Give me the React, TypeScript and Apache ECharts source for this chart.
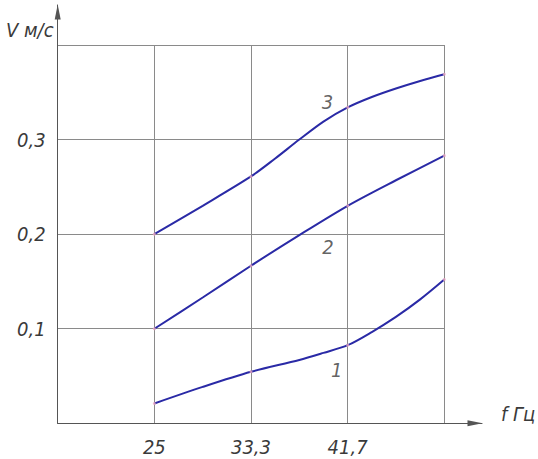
import React, { useEffect, useRef } from "react";
import * as echarts from "echarts";

// Frequency (Hz) values of the grid ticks and their labels
const xTicks = [50 / 3, 25, 100 / 3, 125 / 3, 50];
const xTickLabels = ["", "25", "33,3", "41,7", ""];
const yTicks = [0, 0.1, 0.2, 0.3, 0.4];
const yTickLabels = ["", "0,1", "0,2", "0,3", ""];

// Curve data: f (Hz) and V (m/s)
const curve1F = [25, 29.17, 33.33, 37.5, 39.58, 41.67, 43.75, 45.83, 47.92, 50];
const curve1V = [0.021, 0.0385, 0.0545, 0.067, 0.0745, 0.0826, 0.0965, 0.1125, 0.131, 0.152];
const curve2F = [25, 29.17, 33.33, 37.5, 41.67, 45.83, 50];
const curve2V = [0.1, 0.133, 0.1666, 0.199, 0.23, 0.257, 0.283];
const curve3F = [25, 29.17, 33.33, 35.42, 37.5, 39.58, 41.67, 43.75, 45.83, 47.92, 50];
const curve3V = [0.2, 0.23, 0.261, 0.28, 0.3, 0.319, 0.334, 0.345, 0.354, 0.362, 0.369];

const curveNames = ["1", "2", "3"];
const curveLabelF = [40.73, 39.96, 39.93];
const curveLabelV = [0.0563, 0.1864, 0.34];

const FONT = "'Liberation Sans Narrow', 'DejaVu Sans Condensed', 'DejaVu Sans', sans-serif";
const LINE_COLOR = "#2a2aa6";
const GRID_COLOR = "#8a8a8a";
const TEXT_COLOR = "#3a3a3a";

function nearestLabel(v: number, ticks: number[], labels: string[]) {
  for (let i = 0; i < ticks.length; i++) {
    if (Math.abs(ticks[i] - v) < 1e-3 * Math.max(1, Math.abs(ticks[i]))) return labels[i];
  }
  return "";
}

export default function App() {
  const ref = useRef<HTMLDivElement>(null);
  useEffect(() => {
    if (!ref.current) return;
    const chart = echarts.init(ref.current, undefined, { renderer: "svg" });
    const curves = [
      [curve1F, curve1V],
      [curve2F, curve2V],
      [curve3F, curve3V],
    ];
    const lineSeries = curves.map(([f, v], i) => ({
      type: "line",
      name: curveNames[i],
      xAxisIndex: 0,
      yAxisIndex: 0,
      data: f.map((x, j) => [x, v[j]]),
      smooth: 0.3,
      symbol: "none",
      lineStyle: { color: LINE_COLOR, width: 2 },
      z: 3,
    }));
    const dotData: number[][] = [];
    curves.forEach(([f, v]) => {
      f.forEach((x, j) => {
        if (xTicks.some((t) => Math.abs(t - x) < 0.02)) dotData.push([x, v[j]]);
      });
    });
    const axisFont = {
      color: TEXT_COLOR,
      fontSize: 20,
      fontStyle: "italic",
      fontFamily: FONT,
    };
    const option: any = {
      animation: false,
      backgroundColor: "#ffffff",
      grid: [
        { left: 57.7, top: 45, right: 93.7, bottom: 35.7 },
        { left: 57.7, top: 5, right: 56, bottom: 35.7 },
      ],
      xAxis: [
        {
          type: "value",
          gridIndex: 0,
          min: 50 / 3,
          max: 50,
          interval: 25 / 3,
          axisLine: { show: false },
          axisTick: { show: false },
          splitLine: { show: true, lineStyle: { color: GRID_COLOR, width: 1 } },
          axisLabel: {
            margin: 14,
            ...axisFont,
            formatter: (v: number) => nearestLabel(v, xTicks, xTickLabels),
          },
        },
        {
          type: "value",
          gridIndex: 1,
          min: 0,
          max: 1,
          axisLine: {
            show: true,
            symbol: ["none", "triangle"],
            symbolSize: [6, 15],
            symbolOffset: [0, -7],
            lineStyle: { color: "#555555", width: 1 },
          },
          axisTick: { show: false },
          axisLabel: { show: false },
          splitLine: { show: false },
        },
      ],
      yAxis: [
        {
          type: "value",
          gridIndex: 0,
          min: 0,
          max: 0.4,
          interval: 0.1,
          axisLine: { show: false },
          axisTick: { show: false },
          splitLine: { show: true, lineStyle: { color: GRID_COLOR, width: 1 } },
          axisLabel: {
            margin: 12,
            ...axisFont,
            formatter: (v: number) => nearestLabel(v, yTicks, yTickLabels),
          },
        },
        {
          type: "value",
          gridIndex: 1,
          min: 0,
          max: 1,
          axisLine: {
            show: true,
            symbol: ["none", "triangle"],
            symbolSize: [6, 15],
            symbolOffset: [0, -7],
            lineStyle: { color: "#555555", width: 1 },
          },
          axisTick: { show: false },
          axisLabel: { show: false },
          splitLine: { show: false },
        },
      ],
      series: [
        ...lineSeries,
        {
          type: "scatter",
          xAxisIndex: 0,
          yAxisIndex: 0,
          data: dotData,
          symbolSize: 3,
          itemStyle: { color: "#e9a6c2" },
          z: 4,
        },
        {
          type: "scatter",
          xAxisIndex: 0,
          yAxisIndex: 0,
          symbolSize: 0,
          data: curveNames.map((n, i) => ({ name: n, value: [curveLabelF[i], curveLabelV[i]] })),
          label: {
            show: true,
            position: "inside",
            formatter: (p: any) => p.name,
            ...axisFont,
          },
          z: 5,
        },
      ],
      graphic: [
        {
          type: "text",
          left: 6,
          top: 20,
          style: {
            text: "V м/с",
            fill: TEXT_COLOR,
            font: `italic 20px ${FONT}`,
          },
        },
        {
          type: "text",
          left: 501,
          top: 404,
          style: {
            text: "f Гц",
            fill: TEXT_COLOR,
            font: `italic 20px ${FONT}`,
          },
        },
      ],
    };
    chart.setOption(option);
    return () => chart.dispose();
  }, []);
  return (
    <div style={{ position: "absolute", left: 0, top: 0, width: 538, height: 459, overflow: "hidden" }}>
      <div ref={ref} style={{ width: 538, height: 459 }} />
    </div>
  );
}
